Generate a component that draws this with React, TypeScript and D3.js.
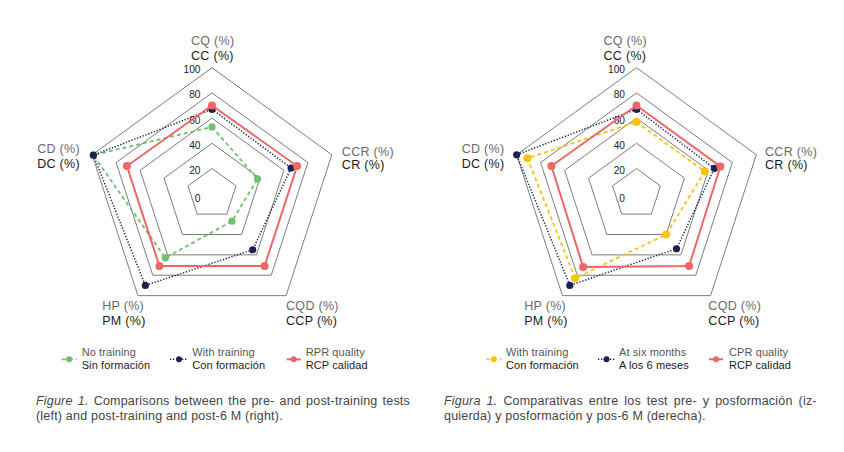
import React, { useLayoutEffect, useRef, useState } from "react";
import * as d3 from "d3";

// ---- data ----
const axisTop = ["CQ (%)", "CCR (%)", "CQD (%)", "HP (%)", "CD (%)"];
const axisBottom = ["CC (%)", "CR (%)", "CCP (%)", "PM (%)", "DC (%)"];
const ringValues = [20, 40, 60, 80, 100];
const tickValues = [0, 20, 40, 60, 80, 100];

// left chart
const noTraining = [53, 38, 27, 63, 99];
const withTrainingL = [67, 66, 55, 90, 99];
const rprQuality = [70, 71, 71, 71, 71];
// right chart
const withTrainingR = [57, 57, 40, 83, 91];
const atSixMonths = [67, 65, 54, 90, 100];
const cprQuality = [70, 70, 71, 72, 71];

const legendLeftTop = ["No training", "With training", "RPR quality"];
const legendLeftBottom = ["Sin formación", "Con formación", "RCP calidad"];
const legendRightTop = ["With training", "At six months", "CPR quality"];
const legendRightBottom = ["Con formación", "A los 6 meses", "RCP calidad"];

const captionLeft = {
  lead: "Figure 1.",
  line1: " Comparisons between the pre- and post-training tests",
  line2: "(left) and post-training and post-6 M (right).",
};
const captionRight = {
  lead: "Figura 1.",
  line1: " Comparativas entre los test pre- y posformación (iz-",
  line2: "quierda) y posformación y pos-6 M (derecha).",
};

// ---- styles ----
const FONT = "'Liberation Sans', Arial, Helvetica, sans-serif";
const GREEN = "#72bf6e";
const NAVY = "#1c2150";
const RED = "#ee6666";
const YELLOW = "#f6c510";

type SeriesStyle = { color: string; dash: string | null; width: number; r: number };
const styleGreen: SeriesStyle = { color: GREEN, dash: "4,3", width: 1.8, r: 3.6 };
const styleNavy: SeriesStyle = { color: NAVY, dash: "1.3,1.7", width: 1.5, r: 3.6 };
const styleRed: SeriesStyle = { color: RED, dash: null, width: 2, r: 4 };
const styleYellow: SeriesStyle = { color: YELLOW, dash: "4,3", width: 1.8, r: 4 };

const R = 126;
const CY = 193.7;

function Radar({
  cx,
  series,
  labelDx,
}: {
  cx: number;
  series: { values: number[]; style: SeriesStyle }[];
  labelDx: number[];
}) {
  const r = d3.scaleLinear().domain([0, 100]).range([0, R]);
  const angle = d3.scaleLinear().domain([0, axisTop.length]).range([0, 2 * Math.PI]);
  const pt = (i: number, v: number): [number, number] => {
    const a = angle(i);
    return [cx + r(v) * Math.sin(a), CY - r(v) * Math.cos(a)];
  };
  const closed = d3.line<[number, number]>().curve(d3.curveLinearClosed);
  const labelDy = [
    [-22.7, -7.7],
    [1.5, 14.5],
    [14.4, 29.4],
    [14.4, 29.4],
    [-1.8, 13.2],
  ];
  return (
    <g>
      {ringValues.map((v) => (
        <path
          key={v}
          d={closed(axisTop.map((_, i) => pt(i, v))) || ""}
          fill="none"
          stroke="#7c7c7c"
          strokeWidth={1}
        />
      ))}
      {tickValues.map((v) => (
        <text
          key={v}
          x={cx - 11.5}
          y={CY - r(v) + 5.5 + (v === 0 ? 3 : 0)}
          textAnchor="end"
          fontSize={10.2}
          fill="#222"
          fontFamily={FONT}
        >
          {v}
        </text>
      ))}
      {series.map((s, si) => {
        const pts = s.values.map((v, i) => pt(i, v));
        return (
          <g key={si}>
            <path
              d={closed(pts) || ""}
              fill="none"
              stroke={s.style.color}
              strokeWidth={s.style.width}
              strokeDasharray={s.style.dash || undefined}
            />
            {pts.map((p, i) => (
              <circle key={i} cx={p[0]} cy={p[1]} r={s.style.r} fill={s.style.color} />
            ))}
          </g>
        );
      })}
      {axisTop.map((t, i) => {
        const [vx, vy] = pt(i, 100);
        return (
          <g key={t} fontFamily={FONT} fontSize={12.5} letterSpacing={0.3}>
            <text x={vx + labelDx[i]} y={vy + labelDy[i][0]} fill="#6a6a6a">
              {t}
            </text>
            <text x={vx + labelDx[i]} y={vy + labelDy[i][1]} fill="#1a1a1a">
              {axisBottom[i]}
            </text>
          </g>
        );
      })}
    </g>
  );
}

function Legend({
  items,
}: {
  items: { x: number; tx: number; w: number; top: string; bottom: string; style: SeriesStyle }[];
}) {
  return (
    <g fontFamily={FONT} fontSize={11} letterSpacing={0.1}>
      {items.map((it, i) => (
        <g key={i}>
          <line
            x1={it.x}
            x2={it.x + it.w}
            y1={359.3}
            y2={359.3}
            stroke={it.style.color}
            strokeWidth={it.style.width}
            strokeDasharray={it.style.dash || undefined}
          />
          <circle cx={it.x + it.w / 2} cy={359.3} r={3} fill={it.style.color} />
          <text x={it.tx} y={356} fill="#555">
            {it.top}
          </text>
          <text x={it.tx} y={368.5} fill="#1a1a1a">
            {it.bottom}
          </text>
        </g>
      ))}
    </g>
  );
}

function Caption({
  x,
  width,
  cap,
}: {
  x: number;
  width: number;
  cap: { lead: string; line1: string; line2: string };
}) {
  const ref = useRef<SVGTextElement>(null);
  const [ws, setWs] = useState(0);
  useLayoutEffect(() => {
    const el = ref.current;
    if (!el) return;
    const len = el.getComputedTextLength();
    const text = el.textContent || "";
    const spaces = (text.match(/ /g) || []).length;
    if (spaces > 0) setWs((width - len) / spaces);
  }, [width]);
  return (
    <g fontFamily={FONT} fontSize={12.5} fill="#444" letterSpacing={0.2}>
      <text ref={ref} x={x} y={405} style={{ wordSpacing: `${ws}px` }}>
        <tspan fontStyle="italic">{cap.lead}</tspan>
        {cap.line1}
      </text>
      <text x={x} y={420}>
        {cap.line2}
      </text>
    </g>
  );
}

export default function App() {
  return (
    <svg
      width={844}
      height={452}
      style={{ position: "absolute", left: 0, top: 0, background: "#fff" }}
    >
      <rect width={844} height={452} fill="#fff" />
      <Radar
        cx={212}
        labelDx={[-21, 10, 0, -35.7, -55]}
        series={[
          { values: noTraining, style: styleGreen },
          { values: withTrainingL, style: styleNavy },
          { values: rprQuality, style: styleRed },
        ]}
      />
      <Radar
        cx={636.5}
        labelDx={[-33, 8.7, -2.2, -38.2, -55]}
        series={[
          { values: withTrainingR, style: styleYellow },
          { values: atSixMonths, style: styleNavy },
          { values: cprQuality, style: styleRed },
        ]}
      />
      <Legend
        items={[
          { x: 61.7, w: 15, tx: 81.7, top: legendLeftTop[0], bottom: legendLeftBottom[0], style: styleGreen },
          { x: 170, w: 18, tx: 192.3, top: legendLeftTop[1], bottom: legendLeftBottom[1], style: styleNavy },
          { x: 286.7, w: 14, tx: 305.7, top: legendLeftTop[2], bottom: legendLeftBottom[2], style: styleRed },
          { x: 486, w: 15.7, tx: 506, top: legendRightTop[0], bottom: legendRightBottom[0], style: styleYellow },
          { x: 598, w: 17, tx: 619, top: legendRightTop[1], bottom: legendRightBottom[1], style: styleNavy },
          { x: 709, w: 14, tx: 729, top: legendRightTop[2], bottom: legendRightBottom[2], style: styleRed },
        ]}
      />
      <Caption x={36} width={374} cap={captionLeft} />
      <Caption x={444} width={372.7} cap={captionRight} />
    </svg>
  );
}
